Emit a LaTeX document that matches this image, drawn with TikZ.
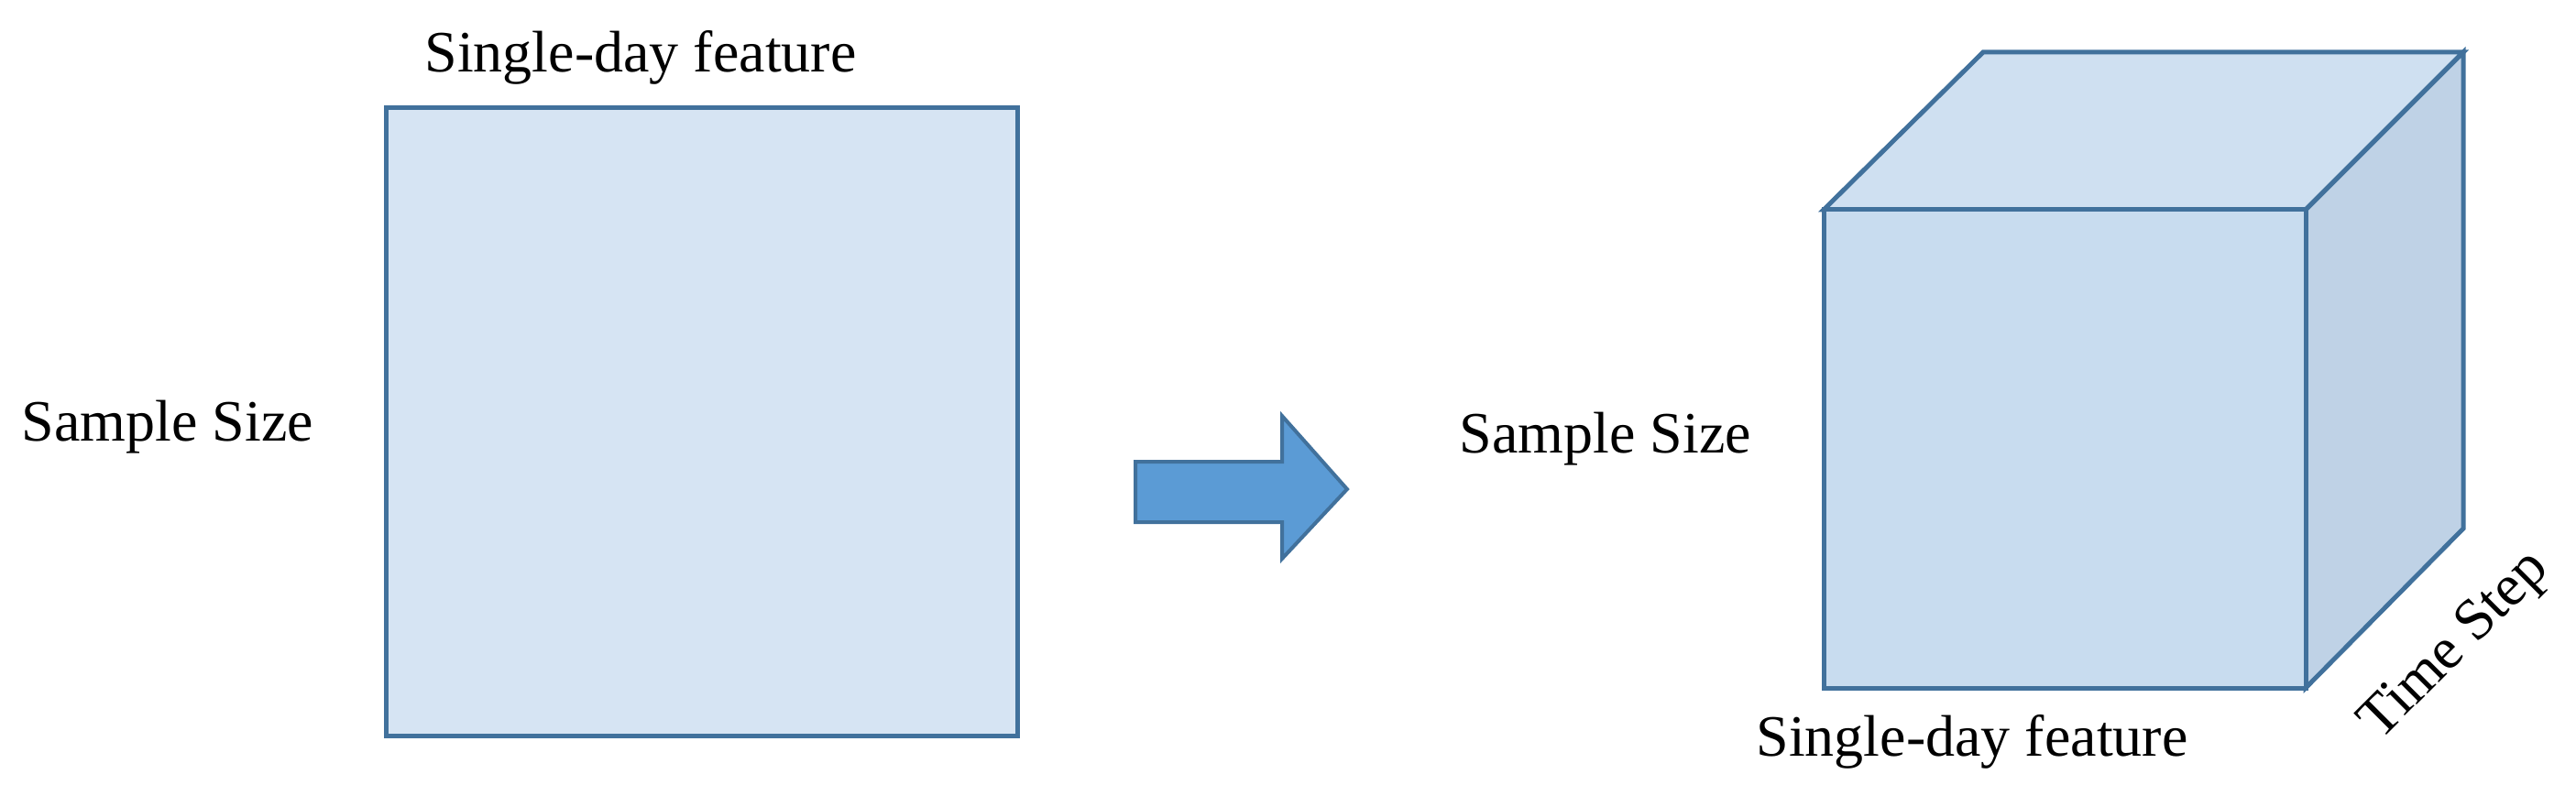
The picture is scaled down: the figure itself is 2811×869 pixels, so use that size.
\documentclass[tikz,border=0pt]{standalone}
\usepackage{fontspec}
\setmainfont{Liberation Serif}
\begin{document}
\begin{tikzpicture}[x=1pt,y=-1pt,
  edge/.style={draw=stroke,line width=5pt,line join=miter},
  lbl/.style={font=\fontsize{64}{70}\selectfont,inner sep=0pt}]
\definecolor{stroke}{HTML}{41719C}
\definecolor{flat}{HTML}{D6E4F3}
\definecolor{front}{HTML}{C8DCEF}
\definecolor{topf}{HTML}{CFE0F1}
\definecolor{side}{HTML}{BFD2E6}
\definecolor{arr}{HTML}{5B9BD5}
\useasboundingbox (0,0) rectangle (2811,869);
% left rectangle
\path[edge,fill=flat] (421,118) rectangle (1110,803);
\node[lbl] (lt) at (699,63) {Single-day feature};
\node[lbl] (ls) at (183,466) {Sample Size};
% arrow
\path[edge,line width=4pt,fill=arr] (1239,504) -- (1399,504) -- (1399,454) -- (1470,534) -- (1399,610) -- (1399,570) -- (1239,570) -- cycle;
% cube
\coordinate (a) at (1990,229); \coordinate (b) at (2516,229);
\coordinate (c) at (2516,751); \coordinate (d) at (1990,751);
\coordinate (a2) at (2164,57); \coordinate (b2) at (2688,57);
\coordinate (c2) at (2688,577);
\path[edge,fill=topf] (a) -- (a2) -- (b2) -- (b) -- cycle;
\path[edge,fill=side] (b) -- (b2) -- (c2) -- (c) -- cycle;
\path[edge,fill=front] (a) rectangle (c);
\node[lbl] (rs) at (1752,479) {Sample Size};
\node[lbl] (rb) at (2152,810) {Single-day feature};
\node[lbl,rotate=45] (rt) at (2680,706) {Time Step};
\end{tikzpicture}
\end{document}
